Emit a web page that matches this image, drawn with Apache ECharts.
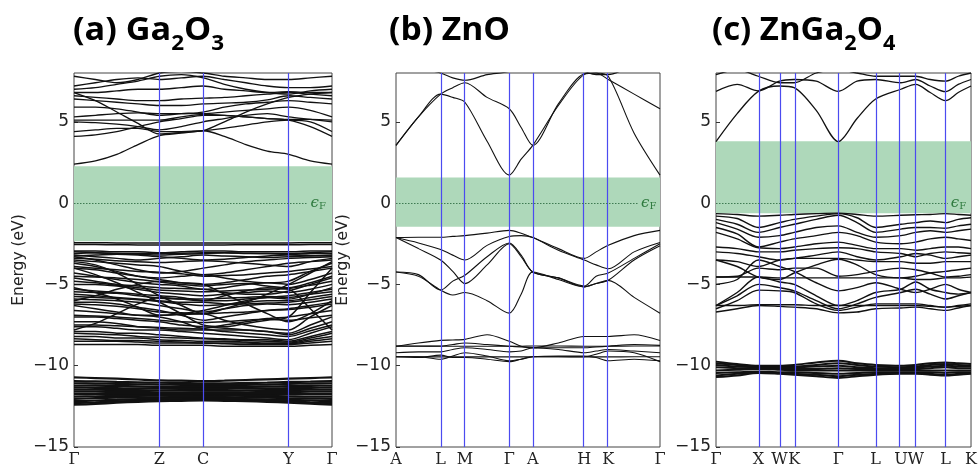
<!DOCTYPE html>
<html><head><meta charset="utf-8">
<script src="https://cdn.jsdelivr.net/npm/echarts@6/dist/echarts.min.js"></script>
<style>html,body{margin:0;padding:0;background:#fff}#c{width:980px;height:468px}</style>
</head><body><div id="c"></div>
<script>
// ---------- (a) Ga2O3 ----------
const kA = [0, 0.083, 0.166, 0.248, 0.331, 0.416, 0.5006, 0.583, 0.666, 0.749, 0.832, 0.916, 1];
const symPosA = [0, 0.331, 0.5006, 0.832, 1];
const symLabA = ['Γ', 'Z', 'C', 'Y', 'Γ'];
const gapA = [-2.34, 2.26];
const gaCond = [
  [2.4, 2.6, 3.0, 3.6, 4.15, 4.3, 4.45, 4.1, 3.6, 3.2, 3.0, 2.6, 2.4],
  [6.8, 6.3, 5.6, 4.9, 4.25, 4.35, 4.45, 5.0, 5.6, 6.1, 6.5, 6.7, 6.8],
  [4.1, 4.2, 4.4, 4.7, 5.0, 5.2, 5.4, 5.4, 5.3, 5.2, 5.1, 4.7, 4.1],
  [5.1, 5.1, 5.1, 5.1, 5.1, 5.3, 5.45, 5.4, 5.3, 5.2, 5.15, 5.15, 5.1],
  [5.3, 5.4, 5.5, 5.55, 5.5, 5.5, 5.5, 5.6, 5.7, 5.8, 5.9, 5.7, 5.3],
  [5.9, 5.9, 5.8, 5.6, 5.4, 5.5, 5.6, 5.9, 6.1, 6.2, 6.3, 6.2, 6.1],
  [6.4, 6.3, 6.2, 6.1, 6.0, 6.0, 6.1, 6.15, 6.2, 6.35, 6.6, 6.5, 6.4],
  [6.6, 6.5, 6.4, 6.3, 6.3, 6.4, 6.45, 6.5, 6.6, 6.7, 6.8, 6.7, 6.6],
  [6.8, 6.8, 6.9, 7.0, 7.0, 7.1, 7.2, 7.0, 6.9, 6.8, 6.85, 6.8, 6.8],
  [7.2, 7.4, 7.6, 7.7, 7.6, 7.7, 7.8, 7.6, 7.4, 7.2, 7.1, 7.1, 7.2],
  [7.8, 7.6, 7.4, 7.6, 8.0, 8.1, 8.0, 7.8, 7.7, 7.6, 7.6, 7.7, 7.8],
  [4.4, 4.5, 4.6, 4.6, 4.4, 4.4, 4.45, 4.6, 4.8, 5.0, 5.1, 5.0, 4.4],
  [7.0, 7.1, 7.3, 7.5, 7.8, 7.9, 7.7, 7.3, 7.0, 6.8, 6.7, 6.9, 7.0],
  [5.0, 4.95, 4.85, 4.7, 4.5, 4.7, 5.0, 5.2, 5.4, 5.5, 5.3, 5.15, 5.0]
];
const gaVal = [
  [-2.44, -2.44, -2.45, -2.45, -2.45, -2.46, -2.46, -2.46, -2.45, -2.45, -2.45, -2.44, -2.44],
  [-2.54, -2.55, -2.56, -2.57, -2.58, -2.58, -2.58, -2.57, -2.56, -2.56, -2.56, -2.55, -2.54],
  [-2.95, -2.95, -3.0, -3.0, -3.05, -3.0, -2.95, -2.95, -3.0, -3.0, -3.0, -2.95, -2.95],
  [-3.0, -3.05, -3.1, -3.1, -3.1, -3.08, -3.05, -3.05, -3.08, -3.1, -3.1, -3.05, -3.0],
  [-3.1, -3.05, -3.1, -3.15, -3.2, -3.15, -3.1, -3.05, -3.1, -3.1, -3.15, -3.1, -3.1],
  [-3.2, -3.3, -3.4, -3.5, -3.4, -3.3, -3.2, -3.25, -3.3, -3.35, -3.3, -3.25, -3.2],
  [-3.25, -3.2, -3.15, -3.2, -3.3, -3.4, -3.5, -3.45, -3.35, -3.25, -3.2, -3.22, -3.25],
  [-3.3, -3.5, -3.8, -4.1, -4.3, -4.2, -4.0, -3.8, -3.6, -3.5, -3.4, -3.35, -3.3],
  [-3.4, -3.45, -3.55, -3.6, -3.65, -3.6, -3.55, -3.6, -3.7, -3.8, -3.9, -3.6, -3.4],
  [-3.5, -3.6, -3.7, -3.8, -3.9, -4.2, -4.4, -4.3, -4.1, -3.9, -3.7, -3.6, -3.5],
  [-3.7, -3.9, -4.2, -4.5, -4.6, -4.5, -4.4, -4.6, -4.8, -4.9, -4.8, -4.2, -3.7],
  [-3.9, -4.0, -4.1, -4.2, -4.25, -4.35, -4.5, -4.45, -4.4, -4.3, -4.2, -4.05, -3.9],
  [-4.0, -4.1, -4.3, -4.5, -4.7, -4.9, -5.0, -4.9, -4.7, -4.5, -4.4, -4.2, -4.0],
  [-4.3, -4.5, -4.7, -4.9, -5.0, -5.1, -5.3, -5.2, -5.0, -4.9, -5.0, -4.7, -4.3],
  [-4.5, -4.55, -4.6, -4.7, -4.85, -5.0, -5.1, -5.0, -4.95, -5.1, -5.2, -4.9, -4.5],
  [-4.6, -4.8, -5.0, -5.1, -5.2, -5.25, -5.3, -5.5, -5.6, -5.6, -5.4, -5.0, -4.6],
  [-4.8, -4.9, -5.05, -5.2, -5.35, -5.4, -5.45, -5.4, -5.35, -5.3, -5.25, -5.05, -4.8],
  [-5.0, -5.0, -5.1, -5.3, -5.5, -5.6, -5.7, -5.6, -5.5, -5.4, -5.5, -5.3, -5.0],
  [-5.3, -5.4, -5.5, -5.6, -5.7, -5.8, -6.0, -6.0, -5.9, -5.8, -5.7, -5.5, -5.3],
  [-5.45, -5.5, -5.55, -5.7, -5.85, -5.9, -5.9, -5.85, -5.8, -5.75, -5.8, -5.6, -5.45],
  [-5.6, -5.7, -5.8, -5.9, -6.0, -6.1, -6.1, -6.2, -6.1, -6.0, -6.0, -5.8, -5.6],
  [-5.75, -5.8, -5.85, -5.95, -6.05, -6.2, -6.3, -6.25, -6.2, -6.15, -6.1, -5.95, -5.75],
  [-5.9, -5.95, -6.0, -6.1, -6.3, -6.5, -6.7, -6.5, -6.3, -6.2, -6.25, -6.1, -5.9],
  [-6.1, -6.1, -6.2, -6.4, -6.6, -6.9, -7.2, -7.0, -6.8, -6.6, -6.5, -6.3, -6.1],
  [-6.2, -6.25, -6.35, -6.5, -6.7, -6.75, -6.8, -6.75, -6.7, -6.6, -6.55, -6.4, -6.2],
  [-6.3, -6.5, -6.7, -6.9, -6.9, -6.85, -6.8, -7.2, -7.5, -7.7, -7.8, -7.0, -6.3],
  [-6.6, -6.7, -6.8, -6.9, -7.0, -7.3, -7.7, -7.5, -7.3, -7.1, -7.0, -6.8, -6.6],
  [-6.9, -6.95, -7.0, -7.1, -7.2, -7.3, -7.35, -7.3, -7.2, -7.15, -7.2, -7.05, -6.9],
  [-7.0, -7.0, -7.1, -7.2, -7.3, -7.5, -7.6, -7.7, -7.8, -7.9, -8.0, -7.5, -7.0],
  [-7.3, -7.3, -7.4, -7.6, -7.7, -7.8, -7.8, -7.8, -7.8, -7.9, -8.1, -7.7, -7.3],
  [-7.5, -7.5, -7.55, -7.6, -7.65, -7.7, -7.75, -7.9, -8.0, -8.1, -8.2, -7.85, -7.5],
  [-7.6, -7.6, -7.7, -7.8, -7.8, -7.9, -8.0, -8.1, -8.2, -8.3, -8.4, -8.0, -7.6],
  [-7.9, -7.9, -8.0, -8.0, -8.1, -8.2, -8.3, -8.35, -8.4, -8.4, -8.5, -8.2, -7.9],
  [-8.0, -8.05, -8.1, -8.2, -8.25, -8.3, -8.35, -8.4, -8.45, -8.5, -8.55, -8.3, -8.0],
  [-8.2, -8.2, -8.3, -8.3, -8.4, -8.45, -8.5, -8.5, -8.55, -8.6, -8.6, -8.4, -8.2],
  [-8.35, -8.4, -8.45, -8.45, -8.5, -8.55, -8.6, -8.6, -8.6, -8.65, -8.65, -8.5, -8.35],
  [-8.5, -8.5, -8.5, -8.55, -8.6, -8.6, -8.6, -8.65, -8.7, -8.7, -8.7, -8.6, -8.5],
  [-8.7, -8.7, -8.7, -8.7, -8.75, -8.75, -8.75, -8.8, -8.8, -8.8, -8.8, -8.75, -8.7],
  [-4.0, -4.4, -4.9, -5.5, -6.1, -6.8, -7.5, -7.6, -7.4, -7.2, -7.0, -5.5, -4.0],
  [-6.0, -5.7, -5.3, -5.0, -4.8, -4.9, -5.0, -5.6, -6.2, -6.8, -7.3, -6.8, -6.0],
  [-5.2, -5.5, -5.9, -6.4, -6.9, -6.8, -6.6, -6.3, -6.0, -5.8, -5.9, -5.6, -5.2],
  [-3.6, -3.8, -4.3, -5.0, -5.7, -6.3, -6.8, -6.5, -6.1, -5.6, -5.0, -4.3, -3.6],
  [-7.8, -7.4, -6.8, -6.2, -5.8, -5.9, -6.0, -5.7, -5.4, -5.2, -5.3, -6.5, -7.8]
];
const gaD = [
  [-10.72, -10.76, -10.8, -10.85, -10.9, -10.92, -10.95, -10.92, -10.88, -10.84, -10.8, -10.76, -10.72],
  [-10.95, -10.97, -11.0, -11.02, -11.05, -11.06, -11.08, -11.08, -11.06, -11.04, -11.0, -10.98, -10.95],
  [-11.08, -11.1, -11.12, -11.14, -11.16, -11.18, -11.2, -11.2, -11.18, -11.16, -11.12, -11.1, -11.08],
  [-11.22, -11.23, -11.25, -11.27, -11.3, -11.3, -11.3, -11.3, -11.3, -11.28, -11.26, -11.24, -11.22],
  [-11.35, -11.36, -11.38, -11.4, -11.4, -11.42, -11.42, -11.42, -11.4, -11.4, -11.38, -11.36, -11.35],
  [-11.48, -11.48, -11.5, -11.5, -11.52, -11.52, -11.54, -11.54, -11.52, -11.5, -11.5, -11.48, -11.48],
  [-11.6, -11.6, -11.62, -11.62, -11.64, -11.64, -11.64, -11.64, -11.64, -11.62, -11.62, -11.6, -11.6],
  [-11.75, -11.74, -11.74, -11.74, -11.74, -11.74, -11.74, -11.74, -11.74, -11.74, -11.75, -11.75, -11.75],
  [-11.9, -11.88, -11.86, -11.85, -11.84, -11.84, -11.84, -11.84, -11.85, -11.86, -11.88, -11.9, -11.9],
  [-12.04, -12.0, -11.97, -11.95, -11.94, -11.93, -11.92, -11.93, -11.95, -11.97, -12.0, -12.02, -12.04],
  [-12.18, -12.14, -12.1, -12.06, -12.04, -12.02, -12.0, -12.02, -12.05, -12.08, -12.1, -12.14, -12.18],
  [-12.3, -12.26, -12.2, -12.15, -12.12, -12.1, -12.08, -12.1, -12.12, -12.16, -12.2, -12.26, -12.3],
  [-12.4, -12.35, -12.28, -12.22, -12.18, -12.16, -12.14, -12.16, -12.18, -12.22, -12.28, -12.34, -12.4]
];

// ---------- (b) ZnO ----------
const kB = [0, 0.085, 0.169, 0.215, 0.261, 0.345, 0.429, 0.474, 0.518, 0.615, 0.713, 0.758, 0.804, 0.902, 1];
const symPosB = [0, 0.169, 0.261, 0.429, 0.518, 0.713, 0.804, 1];
const symLabB = ['A', 'L', 'M', 'Γ', 'A', 'H', 'K', 'Γ'];
const gapB = [-1.45, 1.58];
const znoCond = [
  [3.55, 5.3, 6.7, 6.5, 6.2, 3.8, 1.72, 2.7, 3.55, 6.0, 7.9, 8.0, 7.8, 4.3, 1.72],
  [3.55, 5.3, 6.7, 7.1, 7.4, 6.5, 5.8, 4.65, 3.55, 6.1, 7.95, 8.0, 7.6, 6.7, 5.8],
  [8.6, 8.3, 8.0, 7.7, 7.55, 7.9, 8.1, 8.5, 9.0, 8.6, 8.1, 7.9, 7.9, 8.5, 9.0]
];
const znoVal = [
  [-2.12, -2.1, -2.1, -2.05, -2.0, -1.85, -1.68, -1.85, -2.12, -2.8, -3.4, -3.0, -2.6, -2.0, -1.68],
  [-2.12, -2.45, -2.85, -3.2, -3.5, -2.6, -2.05, -2.0, -2.12, -2.9, -3.5, -3.8, -4.04, -3.0, -2.42],
  [-2.12, -2.8, -3.5, -4.2, -4.95, -3.8, -2.5, -3.3, -4.24, -4.6, -5.15, -4.95, -4.75, -3.5, -2.62],
  [-4.24, -4.4, -5.35, -4.8, -4.44, -3.3, -2.45, -3.2, -4.24, -4.6, -5.1, -4.5, -4.3, -3.4, -2.5],
  [-4.24, -4.5, -5.35, -5.65, -5.5, -6.0, -6.77, -5.6, -4.24, -4.7, -5.15, -4.95, -4.75, -5.8, -6.77]
];
const znoD = [
  [-8.8, -8.6, -8.44, -8.42, -8.38, -8.1, -8.5, -8.8, -8.9, -8.6, -8.2, -8.2, -8.2, -8.1, -8.45],
  [-8.8, -8.8, -8.79, -8.7, -8.6, -8.7, -8.8, -8.85, -8.9, -8.9, -8.9, -8.85, -8.8, -8.7, -8.75],
  [-9.2, -9.15, -9.15, -9.0, -8.9, -9.0, -9.15, -9.1, -8.9, -9.0, -9.2, -9.1, -9.0, -9.1, -9.2],
  [-9.45, -9.45, -9.6, -9.4, -9.2, -9.4, -9.7, -9.6, -9.45, -9.4, -9.4, -9.5, -9.7, -9.6, -9.7],
  [-9.45, -9.5, -9.35, -9.5, -9.5, -9.6, -9.75, -9.6, -9.45, -9.45, -9.45, -9.3, -9.1, -9.2, -9.75],
  [-8.79, -8.79, -8.8, -8.8, -8.8, -8.8, -8.8, -8.8, -8.79, -8.79, -8.8, -8.8, -8.8, -8.79, -8.79],
  [-9.45, -9.45, -9.46, -9.46, -9.46, -9.46, -9.46, -9.46, -9.45, -9.45, -9.46, -9.46, -9.46, -9.45, -9.45]
];

// ---------- (c) ZnGa2O4 ----------
const kC = [0, 0.083, 0.166, 0.249, 0.3065, 0.393, 0.480, 0.553, 0.626, 0.725, 0.783, 0.84, 0.900, 0.95, 1];
const symPosC = [0, 0.166, 0.249, 0.3065, 0.480, 0.626, 0.725, 0.783, 0.900, 1];
const symLabC = ['Γ', 'X', 'W', 'K', 'Γ', 'L', 'U', 'W', 'L', 'K'];
const gapC = [-0.62, 3.8];
const zgoCond = [
  [3.78, 5.5, 6.87, 7.2, 7.1, 5.7, 3.78, 5.2, 6.4, 7.0, 7.3, 6.8, 6.3, 6.8, 7.2],
  [6.87, 7.3, 6.9, 7.5, 7.6, 7.5, 6.87, 7.5, 7.6, 7.4, 7.6, 7.2, 6.85, 7.3, 7.6],
  [7.9, 8.2, 7.8, 7.4, 7.4, 8.0, 8.2, 8.0, 7.8, 7.8, 7.8, 7.6, 7.5, 7.8, 8.0]
];
const zgoVal = [
  [-0.65, -0.7, -0.8, -0.75, -0.7, -0.65, -0.62, -0.7, -0.8, -0.75, -0.72, -0.7, -0.65, -0.7, -0.75],
  [-0.8, -0.95, -1.5, -1.2, -1.0, -0.8, -0.65, -0.9, -1.5, -1.3, -1.2, -1.1, -1.2, -1.0, -0.9],
  [-1.0, -1.3, -1.8, -1.5, -1.3, -1.0, -0.75, -1.2, -1.8, -1.6, -1.5, -1.5, -1.55, -1.4, -1.3],
  [-1.2, -1.6, -2.1, -2.0, -1.8, -1.5, -1.4, -1.8, -2.1, -2.0, -1.8, -1.7, -1.8, -1.7, -1.6],
  [-1.5, -1.9, -2.7, -2.4, -2.2, -2.0, -1.8, -2.0, -2.4, -2.5, -2.4, -2.2, -2.1, -2.2, -2.3],
  [-1.8, -2.2, -2.75, -2.8, -2.7, -2.5, -2.4, -2.6, -2.8, -2.8, -2.9, -2.8, -2.7, -2.7, -2.8],
  [-2.7, -2.8, -3.0, -3.0, -2.9, -2.8, -2.75, -2.8, -3.0, -3.1, -3.3, -3.1, -3.0, -3.05, -3.1],
  [-3.0, -3.1, -3.3, -3.5, -3.4, -3.2, -3.0, -3.3, -3.5, -3.3, -3.1, -3.2, -3.4, -3.3, -3.2],
  [-3.5, -3.6, -3.9, -3.5, -3.4, -3.4, -3.4, -3.5, -3.6, -3.6, -3.7, -3.7, -3.6, -3.6, -3.6],
  [-3.5, -3.9, -4.55, -4.7, -4.3, -3.8, -3.45, -3.8, -4.4, -4.6, -4.5, -4.3, -4.2, -4.1, -4.0],
  [-4.55, -4.5, -4.0, -4.1, -4.0, -4.0, -4.5, -4.4, -4.2, -4.0, -4.1, -4.3, -4.55, -4.5, -4.4],
  [-4.55, -4.55, -4.55, -4.6, -4.6, -4.6, -4.6, -4.6, -4.6, -4.6, -4.7, -4.7, -4.6, -4.6, -4.55],
  [-6.3, -5.5, -4.55, -4.85, -5.0, -5.7, -6.3, -6.0, -5.5, -5.3, -4.85, -5.3, -5.5, -5.6, -5.5],
  [-6.3, -5.7, -5.0, -5.2, -5.4, -6.0, -6.5, -6.2, -5.8, -5.5, -5.3, -5.6, -5.9, -5.7, -5.5],
  [-6.5, -6.0, -5.35, -5.4, -5.5, -6.2, -6.6, -6.4, -6.2, -6.2, -6.2, -6.3, -6.4, -6.3, -6.2],
  [-6.3, -6.3, -6.25, -6.25, -6.25, -6.3, -6.3, -6.3, -6.3, -6.3, -6.3, -6.35, -6.4, -6.35, -6.3],
  [-6.7, -6.5, -6.3, -6.35, -6.4, -6.5, -6.75, -6.7, -6.5, -6.45, -6.4, -6.5, -6.6, -6.45, -6.3],
  [-5.0, -4.7, -3.5, -3.9, -4.2, -4.9, -5.4, -5.2, -4.9, -5.3, -5.5, -5.3, -5.0, -5.3, -5.5]
];
const zgoD = [
  [-9.75, -9.9, -10.0, -10.0, -9.95, -9.8, -9.7, -9.85, -9.95, -10.0, -9.95, -9.85, -9.8, -9.85, -9.9],
  [-9.85, -9.95, -10.05, -10.05, -10.05, -9.95, -9.85, -9.95, -10.05, -10.1, -10.05, -9.95, -9.9, -9.95, -10.0],
  [-9.95, -10.05, -10.1, -10.1, -10.1, -10.05, -10.0, -10.1, -10.15, -10.15, -10.1, -10.05, -10.0, -10.05, -10.05],
  [-10.1, -10.15, -10.15, -10.2, -10.2, -10.2, -10.15, -10.2, -10.2, -10.2, -10.2, -10.15, -10.1, -10.15, -10.15],
  [-10.3, -10.25, -10.2, -10.25, -10.3, -10.3, -10.3, -10.3, -10.3, -10.3, -10.3, -10.3, -10.3, -10.3, -10.3],
  [-10.45, -10.4, -10.35, -10.4, -10.4, -10.45, -10.5, -10.45, -10.4, -10.4, -10.4, -10.4, -10.45, -10.4, -10.4],
  [-10.6, -10.5, -10.4, -10.45, -10.5, -10.55, -10.65, -10.55, -10.5, -10.45, -10.45, -10.5, -10.55, -10.5, -10.45],
  [-10.7, -10.6, -10.45, -10.5, -10.55, -10.65, -10.75, -10.65, -10.55, -10.5, -10.5, -10.55, -10.6, -10.55, -10.5]
];

const yTicks = [-15, -10, -5, 0, 5];
const efEnd = [0.905, 0.917, 0.909];

// ---------- build ----------
const chart = echarts.init(document.getElementById('c'), null, {renderer: 'canvas'});
const grids = [
  {left: 74, top: 73, width: 258, height: 378},
  {left: 396, top: 73, width: 264, height: 380},
  {left: 716, top: 73, width: 261, height: 379}
];
const panels = [
  {k: kA, pos: symPosA, lab: symLabA, gap: gapA, sets: [gaCond, gaVal, gaD], lw: [1.3, 1.5, 2.2], yname: 'Energy (eV)', ngap: 47},
  {k: kB, pos: symPosB, lab: symLabB, gap: gapB, sets: [znoCond, znoVal, znoD], lw: [1.1, 1.1, 1.1], yname: 'Energy (eV)', ngap: 38},
  {k: kC, pos: symPosC, lab: symLabC, gap: gapC, sets: [zgoCond, zgoVal, zgoD], lw: [1.3, 1.4, 2.0], yname: '', ngap: 40}
];
const minus = v => (v < 0 ? '\u2212' + Math.abs(v) : String(v));
const xAxes = [], yAxes = [], series = [];
panels.forEach((p, i) => {
  xAxes.push({
    gridIndex: i, type: 'value', min: 0, max: 1,
    axisLine: {show: false}, splitLine: {show: false}, axisTick: {show: false},
    axisLabel: {
      customValues: p.pos, margin: 5, fontFamily: 'DejaVu Serif', fontSize: 16, color: '#222',
      formatter: v => { const j = p.pos.findIndex(q => Math.abs(q - v) < 1e-6); return j >= 0 ? p.lab[j] : ''; }
    }
  });
  yAxes.push({
    gridIndex: i, type: 'value', min: -15, max: 8, interval: 5,
    name: p.yname, nameLocation: 'middle', nameGap: p.ngap, nameRotate: 90,
    nameTextStyle: {fontFamily: 'DejaVu Sans', fontSize: 15.5, color: '#222'},
    axisLine: {show: false}, splitLine: {show: false},
    axisTick: {show: true, inside: true, length: 4, lineStyle: {color: '#333'}},
    axisLabel: {showMaxLabel: false, margin: 5, fontFamily: 'DejaVu Sans', fontSize: 17, color: '#222',
      formatter: v => (yTicks.includes(v) ? minus(v) : '')}
  });
  series.push({
    type: 'line', xAxisIndex: i, yAxisIndex: i, data: [], z: 1, silent: true,
    markArea: {silent: true, itemStyle: {color: '#aed8ba'}, data: [[{yAxis: p.gap[0]}, {yAxis: p.gap[1]}]]}
  });
  p.sets.forEach((set, si) => set.forEach(b => {
    series.push({
      type: 'line', xAxisIndex: i, yAxisIndex: i, z: 2, silent: true,
      symbol: 'none', smooth: 0.3, clip: true,
      lineStyle: {color: '#111', width: p.lw[si]},
      data: p.k.map((x, j) => [x, b[j]])
    });
  }));
  series.push({
    type: 'line', xAxisIndex: i, yAxisIndex: i, data: [], z: 3, silent: true,
    markLine: {
      silent: true, symbol: 'none', animation: false,
      data: p.pos.slice(1, -1).map(v => ({xAxis: v, lineStyle: {color: '#4b4bf0', width: 1.2, type: 'solid'}, label: {show: false}}))
        .concat([[
          {coord: [0, 0], lineStyle: {color: '#3f7a52', width: 1, type: [1.5, 1.5]},
           label: {show: true, position: 'end', distance: 3, formatter: '{e|ϵ}{f|F}',
             rich: {e: {fontFamily: 'DejaVu Serif', fontStyle: 'italic', fontSize: 15, color: '#2f7a3f'},
                    f: {fontFamily: 'DejaVu Serif', fontSize: 10, color: '#2f7a3f', padding: [6, 0, 0, 0]}}}},
          {coord: [efEnd[i], 0]}
        ]])
    }
  });
});

const titleRich = (color) => ({
  m: {fontFamily: 'Open Sans', fontWeight: 'bold', fontSize: 32, color: color, verticalAlign: 'bottom', padding: [0, 0, 8, 0]},
  s: {fontFamily: 'Open Sans', fontWeight: 'bold', fontSize: 21, color: color, verticalAlign: 'bottom'}
});
chart.setOption({
  animation: false,
  backgroundColor: '#fff',
  grid: grids.map(g => Object.assign({show: true, borderColor: '#444', borderWidth: 1, backgroundColor: 'transparent'}, g)),
  xAxis: xAxes, yAxis: yAxes, series: series,
  graphic: [
    {type: 'text', left: 73, top: 15, scaleX: 1.07, style: {text: '{m|(a) Ga}{s|2}{m|O}{s|3}', rich: titleRich('#1d7a22')}},
    {type: 'text', left: 389, top: 15, scaleX: 1.05, style: {text: '{m|(b) ZnO}', rich: titleRich('#111111')}},
    {type: 'text', left: 712, top: 15, scaleX: 1.03, style: {text: '{m|(c) ZnGa}{s|2}{m|O}{s|4}', rich: titleRich('#e5161d')}}
  ]
});
</script></body></html>
